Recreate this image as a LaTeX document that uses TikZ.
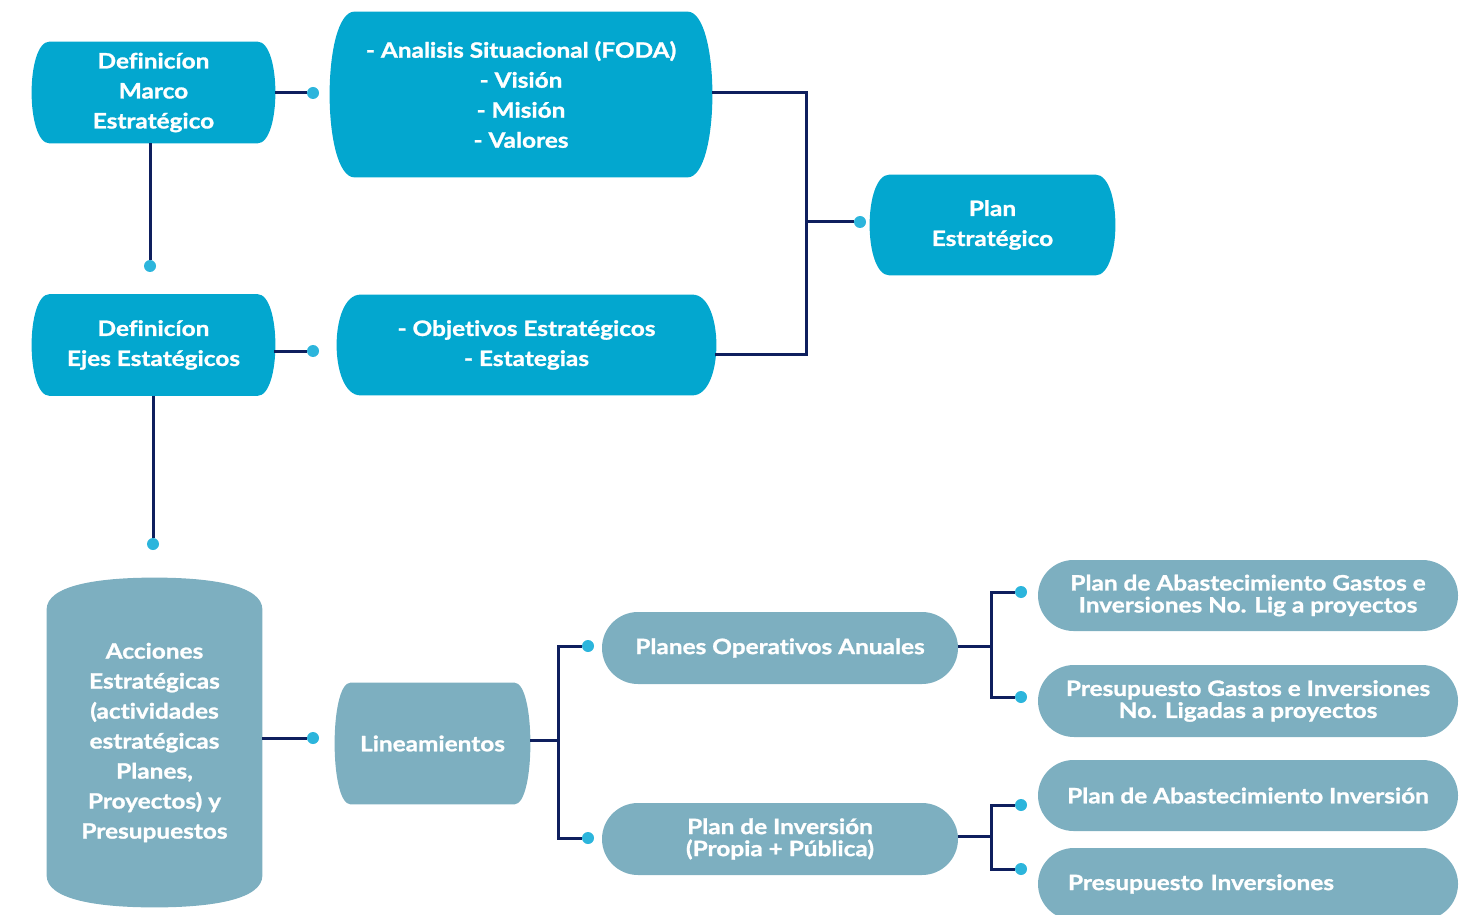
\documentclass[tikz,border=0pt]{standalone}
\usepackage{fontspec}
\setmainfont{Lato}[Ligatures=NoCommon, BoldFeatures={FakeStretch=1.15, FakeBold=1.2}]
\usepackage{tikz}
\usetikzlibrary{shapes.misc, positioning, calc, backgrounds}

\definecolor{cianfill}{HTML}{03A7CF}
\definecolor{grisfill}{HTML}{7DAFC0}
\definecolor{navyline}{HTML}{0E1F5E}
\definecolor{dotblue}{HTML}{2CB5DC}

% fill with bulging left and right sides behind a node
\newcommand{\sidefill}[3]{%
  \fill[#3] (#1.north west) .. controls +({-#2*4/3},0) and +({-#2*4/3},0) .. (#1.south west)
    -- (#1.south east) .. controls +({#2*4/3},0) and +({#2*4/3},0) .. (#1.north east) -- cycle;}

\begin{document}
\begin{tikzpicture}[
    x=0.5pt, y=-0.5pt,
    topbox/.style={rectangle, text=white, align=center, inner sep=0pt,
      font=\bfseries\fontsize{10.6}{15}\selectfont},
    pillbox/.style={shape=rounded rectangle, fill=grisfill, text=white, align=center,
      inner sep=0pt, font=\bfseries\fontsize{10.6}{11}\selectfont},
    dot/.style={circle, fill=dotblue, inner sep=0pt, minimum size=6pt},
    link/.style={draw=navyline, line width=1.5pt}
]
\useasboundingbox (0,0) rectangle (1475,914);

% upper part
\node[topbox, minimum width=103.5pt, minimum height=50.5pt] (marco) at (153.5,92.5) {Definicíon\\Marco\\Estratégico};
\node[topbox, minimum width=166pt, minimum height=82.5pt] (foda) at (521,94.5) {- Analisis Situacional (FODA)\\- Visión\\- Misión\\- Valores};
\node[topbox, minimum width=103.5pt, minimum height=50.5pt] (ejes) at (153.5,345) {Definicíon\\Ejes Estatégicos};
\node[topbox, minimum width=165.5pt, minimum height=50pt] (obj) at (526.5,345) {- Objetivos Estratégicos\\- Estategias};
\node[topbox, minimum width=102.5pt, minimum height=50pt] (plan) at (992.5,225) {Plan\\Estratégico};
\begin{scope}[on background layer]
\sidefill{marco}{18}{cianfill}
\sidefill{foda}{25}{cianfill}
\sidefill{ejes}{18}{cianfill}
\sidefill{obj}{24}{cianfill}
\sidefill{plan}{20}{cianfill}
\end{scope}

\node[dot] (dmarco) at (313,93) {};
\node[dot] (dmarcob) at (150,266) {};
\node[dot] (dejes) at (313,351) {};
\node[dot] (dejesb) at (153,544) {};
\node[dot] (dplan) at (860,222) {};
\coordinate (jfoda) at (806,222);

\draw[link] ($(marco.east |- dmarco)+(18,0)$) -- (dmarco);
\draw[link] (marco.south -| dmarcob) -- (dmarcob);
\draw[link] ($(ejes.east |- dejes)+(17,0)$) -- (dejes);
\draw[link] (ejes.south -| dejesb) -- (dejesb);
\draw[link] ($(foda.east)+(25,-2)$) -| (jfoda) |- ($(obj.east)+(23,9)$);
\draw[link] (jfoda) -- (dplan);

% lower part
\node[text=white, align=center, minimum width=107.5pt, minimum height=132.5pt,
  font=\bfseries\fontsize{10.6}{15}\selectfont] (acc) at (154.5,742.5)
  {Acciones\\Estratégicas\\(actividades\\estratégicas\\Planes,\\Proyectos) y\\Presupuestos};
\node[topbox, minimum width=81.5pt, minimum height=60.5pt] (lin) at (432.5,743.5) {Lineamientos};
\begin{scope}[on background layer]
\fill[grisfill] (acc.north west) .. controls +(0,-24) and +(-58,0) .. ($(acc.north)+(0,-32)$)
  .. controls +(58,0) and +(0,-24) .. (acc.north east) -- (acc.south east)
  .. controls +(0,24) and +(58,0) .. ($(acc.south)+(0,32)$)
  .. controls +(-58,0) and +(0,24) .. (acc.south west) -- cycle;
\sidefill{lin}{16}{grisfill}
\end{scope}
\node[pillbox, minimum width=178pt, minimum height=36pt] (poa) at (780,648) {Planes Operativos Anuales};
\node[pillbox, minimum width=178pt, minimum height=36pt] (pinv) at (780,839) {Plan de Inversión\\(Propia + Pública)};
\node[pillbox, minimum width=210pt, minimum height=35.5pt] (pag) at (1248,595.5) {Plan de Abastecimiento Gastos e\\Inversiones No. Lig a proyectos};
\node[pillbox, minimum width=210pt, minimum height=36pt] (pgi) at (1248,701) {Presupuesto Gastos e Inversiones\\No. Ligadas a proyectos};
\node[pillbox, minimum width=210pt, minimum height=35.5pt] (pai) at (1248,795.5) {Plan de Abastecimiento Inversión};
\node[pillbox, minimum width=210pt, minimum height=36pt, text width=180pt, align=left] (pi) at (1248,884) {Presupuesto Inversiones};

\node[dot] (dacc) at (313,738) {};
\node[dot] (dpoa) at (588,646) {};
\node[dot] (dpinv) at (588,838) {};
\node[dot] (dpag) at (1021,592) {};
\node[dot] (dpgi) at (1021,697) {};
\node[dot] (dpai) at (1021,805) {};
\node[dot] (dpi) at (1021,869) {};
\coordinate (jlin) at (558,740);
\coordinate (jpoa) at ($(poa.east)+(33,-2)$);
\coordinate (jpinv) at ($(pinv.east)+(33,-3)$);

\draw[link] (acc.east |- dacc) -- (dacc);
\draw[link] ($(lin.east |- jlin)+(16,0)$) -- (jlin);
\draw[link] (dpoa) -| (jlin) |- (dpinv);
\draw[link] ($(poa.east)+(0,-2)$) -- (jpoa);
\draw[link] (dpag) -| (jpoa) |- (dpgi);
\draw[link] ($(pinv.east)+(0,-3)$) -- (jpinv);
\draw[link] (dpai) -| (jpinv) |- (dpi);
\end{tikzpicture}
\end{document}
